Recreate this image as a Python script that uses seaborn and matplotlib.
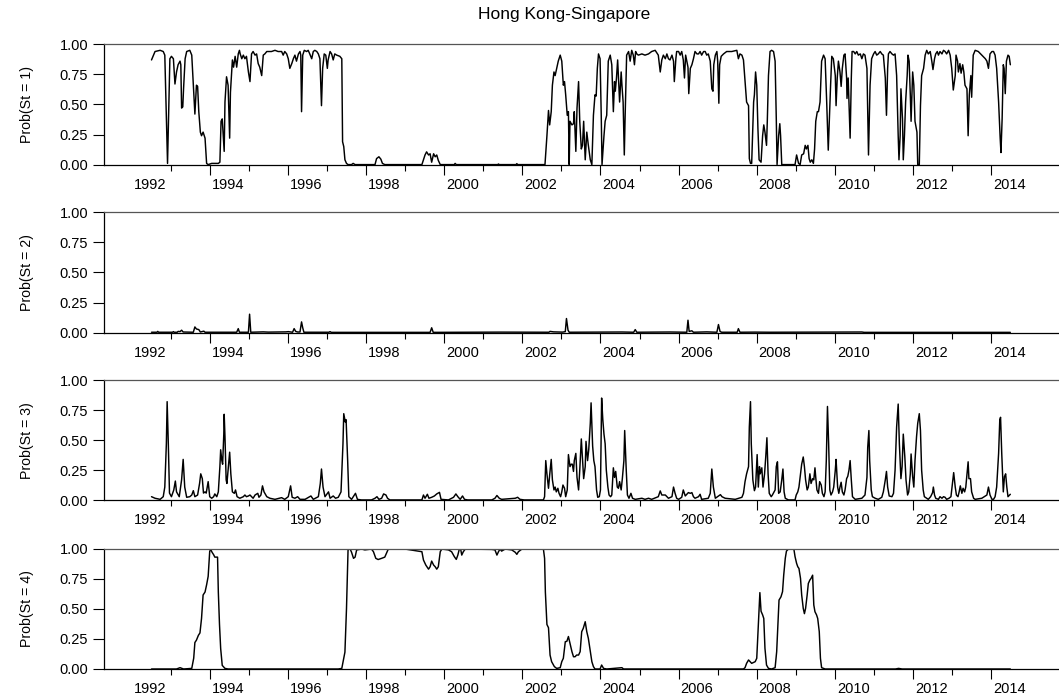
import matplotlib
matplotlib.use("Agg")
import matplotlib.pyplot as plt
import matplotlib.transforms as mtransforms
import seaborn as sns
import pandas as pd

# ---------------- data (decimal year, probability) ----------------
regime1 = [
    (1992.51, 0.87), (1992.60, 0.94), (1992.73, 0.95), (1992.81, 0.94), (1992.85, 0.91), (1992.92, 0.01),
    (1992.98, 0.88), (1993.02, 0.90), (1993.07, 0.88), (1993.11, 0.67), (1993.15, 0.77), (1993.19, 0.83),
    (1993.24, 0.86), (1993.26, 0.83), (1993.28, 0.47), (1993.31, 0.48), (1993.33, 0.63), (1993.37, 0.88),
    (1993.41, 0.94), (1993.49, 0.95), (1993.54, 0.91), (1993.58, 0.66), (1993.62, 0.42), (1993.66, 0.66),
    (1993.69, 0.65), (1993.72, 0.44), (1993.76, 0.27), (1993.79, 0.24), (1993.83, 0.27), (1993.88, 0.22),
    (1993.92, 0.01), (1993.96, 0.0), (1994.05, 0.01), (1994.22, 0.01), (1994.26, 0.02), (1994.29, 0.36),
    (1994.32, 0.38), (1994.37, 0.11), (1994.39, 0.52), (1994.43, 0.73), (1994.47, 0.66), (1994.51, 0.22),
    (1994.53, 0.60), (1994.58, 0.87), (1994.61, 0.81), (1994.65, 0.90), (1994.69, 0.81), (1994.73, 0.92),
    (1994.76, 0.95), (1994.78, 0.92), (1994.82, 0.88), (1994.86, 0.91), (1994.90, 0.88), (1994.94, 0.90),
    (1994.99, 0.77), (1995.03, 0.69), (1995.07, 0.92), (1995.11, 0.94), (1995.16, 0.91), (1995.20, 0.92),
    (1995.24, 0.84), (1995.28, 0.81), (1995.33, 0.74), (1995.37, 0.91), (1995.41, 0.92), (1995.46, 0.94),
    (1995.50, 0.94), (1995.58, 0.94), (1995.67, 0.95), (1995.75, 0.94), (1995.84, 0.94), (1995.88, 0.91),
    (1995.92, 0.94), (1995.97, 0.92), (1996.01, 0.88), (1996.05, 0.80), (1996.10, 0.84), (1996.14, 0.88),
    (1996.18, 0.91), (1996.22, 0.86), (1996.27, 0.92), (1996.31, 0.94), (1996.33, 0.91), (1996.35, 0.44),
    (1996.38, 0.91), (1996.42, 0.95), (1996.48, 0.94), (1996.52, 0.95), (1996.56, 0.92), (1996.61, 0.88),
    (1996.65, 0.94), (1996.69, 0.95), (1996.74, 0.94), (1996.78, 0.92), (1996.82, 0.88), (1996.86, 0.49),
    (1996.89, 0.80), (1996.93, 0.92), (1996.97, 0.91), (1997.01, 0.80), (1997.03, 0.87), (1997.08, 0.94),
    (1997.12, 0.92), (1997.16, 0.87), (1997.20, 0.92), (1997.25, 0.91), (1997.33, 0.90), (1997.38, 0.88),
    (1997.40, 0.19), (1997.43, 0.15), (1997.46, 0.04), (1997.50, 0.01), (1997.54, 0.0), (1997.63, 0.0),
    (1997.67, 0.01), (1997.72, 0.0), (1998.23, 0.0), (1998.27, 0.05), (1998.33, 0.065), (1998.38, 0.045),
    (1998.42, 0.01), (1998.48, 0.0), (1999.43, 0.0), (1999.51, 0.08), (1999.55, 0.106), (1999.60, 0.08),
    (1999.64, 0.09), (1999.68, 0.02), (1999.73, 0.09), (1999.77, 0.065), (1999.81, 0.08), (1999.85, 0.035),
    (1999.90, 0.0), (2000.26, 0.0), (2000.28, 0.01), (2000.31, 0.0), (2001.37, 0.0), (2001.39, 0.005),
    (2001.41, 0.0), (2001.84, 0.0), (2001.86, 0.008), (2001.88, 0.0), (2002.58, 0.0), (2002.63, 0.24),
    (2002.67, 0.45), (2002.70, 0.33), (2002.74, 0.44), (2002.77, 0.66), (2002.81, 0.77), (2002.84, 0.74),
    (2002.88, 0.80), (2002.92, 0.86), (2002.97, 0.91), (2003.01, 0.86), (2003.05, 0.66), (2003.08, 0.69),
    (2003.11, 0.58), (2003.15, 0.41), (2003.18, 0.44), (2003.20, 0.0), (2003.22, 0.36), (2003.27, 0.33),
    (2003.31, 0.34), (2003.33, 0.44), (2003.37, 0.11), (2003.40, 0.47), (2003.44, 0.69), (2003.47, 0.36),
    (2003.51, 0.13), (2003.54, 0.16), (2003.57, 0.36), (2003.61, 0.04), (2003.65, 0.27), (2003.69, 0.16),
    (2003.74, 0.04), (2003.78, 0.0), (2003.82, 0.41), (2003.86, 0.58), (2003.89, 0.57), (2003.92, 0.80),
    (2003.95, 0.92), (2003.99, 0.88), (2004.02, 0.41), (2004.04, 0.0), (2004.09, 0.24), (2004.12, 0.36),
    (2004.16, 0.41), (2004.20, 0.86), (2004.25, 0.91), (2004.29, 0.83), (2004.33, 0.44), (2004.36, 0.69),
    (2004.38, 0.61), (2004.41, 0.72), (2004.44, 0.87), (2004.47, 0.66), (2004.49, 0.52), (2004.53, 0.77),
    (2004.55, 0.66), (2004.58, 0.52), (2004.61, 0.08), (2004.63, 0.38), (2004.67, 0.91), (2004.72, 0.94),
    (2004.76, 0.86), (2004.80, 0.95), (2004.84, 0.91), (2004.87, 0.83), (2004.90, 0.94), (2004.93, 0.92),
    (2004.97, 0.91), (2005.06, 0.92), (2005.14, 0.91), (2005.23, 0.92), (2005.31, 0.94), (2005.40, 0.95),
    (2005.48, 0.91), (2005.53, 0.77), (2005.57, 0.87), (2005.61, 0.91), (2005.66, 0.88), (2005.70, 0.92),
    (2005.74, 0.88), (2005.78, 0.87), (2005.83, 0.91), (2005.87, 0.86), (2005.89, 0.69), (2005.93, 0.88),
    (2005.95, 0.94), (2006.00, 0.94), (2006.04, 0.91), (2006.08, 0.94), (2006.12, 0.87), (2006.15, 0.72),
    (2006.18, 0.91), (2006.21, 0.86), (2006.24, 0.81), (2006.26, 0.59), (2006.30, 0.80), (2006.34, 0.83),
    (2006.38, 0.88), (2006.42, 0.94), (2006.47, 0.92), (2006.51, 0.92), (2006.55, 0.94), (2006.59, 0.91),
    (2006.64, 0.94), (2006.68, 0.94), (2006.72, 0.91), (2006.76, 0.92), (2006.81, 0.86), (2006.85, 0.63),
    (2006.88, 0.61), (2006.90, 0.83), (2006.94, 0.91), (2006.98, 0.94), (2007.00, 0.86), (2007.03, 0.51),
    (2007.05, 0.83), (2007.09, 0.90), (2007.15, 0.92), (2007.23, 0.94), (2007.36, 0.94), (2007.49, 0.95),
    (2007.53, 0.88), (2007.57, 0.92), (2007.62, 0.91), (2007.66, 0.87), (2007.70, 0.69), (2007.74, 0.52),
    (2007.79, 0.49), (2007.81, 0.05), (2007.84, 0.01), (2007.87, 0.01), (2007.92, 0.52), (2007.94, 0.58),
    (2007.97, 0.77), (2008.00, 0.66), (2008.03, 0.30), (2008.06, 0.04), (2008.11, 0.02), (2008.15, 0.24),
    (2008.18, 0.33), (2008.21, 0.27), (2008.25, 0.16), (2008.27, 0.36), (2008.30, 0.74), (2008.34, 0.94),
    (2008.38, 0.95), (2008.43, 0.94), (2008.47, 0.86), (2008.50, 0.38), (2008.52, 0.0), (2008.56, 0.24),
    (2008.59, 0.34), (2008.61, 0.24), (2008.64, 0.0), (2008.98, 0.0), (2009.02, 0.08), (2009.07, 0.01),
    (2009.11, 0.0), (2009.15, 0.08), (2009.20, 0.09), (2009.24, 0.16), (2009.27, 0.13), (2009.31, 0.16),
    (2009.34, 0.05), (2009.37, 0.02), (2009.41, 0.04), (2009.45, 0.01), (2009.48, 0.13), (2009.51, 0.36),
    (2009.55, 0.44), (2009.58, 0.44), (2009.62, 0.52), (2009.66, 0.86), (2009.71, 0.91), (2009.75, 0.88),
    (2009.79, 0.52), (2009.83, 0.12), (2009.85, 0.30), (2009.89, 0.66), (2009.92, 0.90), (2009.96, 0.88),
    (2010.01, 0.74), (2010.03, 0.49), (2010.06, 0.72), (2010.09, 0.86), (2010.13, 0.77), (2010.16, 0.65),
    (2010.19, 0.80), (2010.23, 0.91), (2010.26, 0.92), (2010.30, 0.72), (2010.31, 0.55), (2010.34, 0.72),
    (2010.36, 0.52), (2010.39, 0.22), (2010.42, 0.72), (2010.44, 0.94), (2010.48, 0.94), (2010.52, 0.92),
    (2010.56, 0.94), (2010.60, 0.91), (2010.65, 0.92), (2010.69, 0.88), (2010.73, 0.92), (2010.77, 0.91),
    (2010.82, 0.80), (2010.86, 0.08), (2010.90, 0.66), (2010.94, 0.88), (2010.99, 0.92), (2011.03, 0.94),
    (2011.07, 0.91), (2011.11, 0.92), (2011.16, 0.94), (2011.20, 0.92), (2011.24, 0.91), (2011.29, 0.72),
    (2011.32, 0.41), (2011.35, 0.80), (2011.37, 0.92), (2011.41, 0.94), (2011.46, 0.92), (2011.50, 0.91),
    (2011.54, 0.92), (2011.58, 0.74), (2011.62, 0.24), (2011.64, 0.04), (2011.67, 0.24), (2011.69, 0.63),
    (2011.73, 0.38), (2011.75, 0.04), (2011.78, 0.24), (2011.81, 0.52), (2011.85, 0.74), (2011.87, 0.91),
    (2011.90, 0.86), (2011.93, 0.58), (2011.95, 0.36), (2011.99, 0.77), (2012.02, 0.66), (2012.05, 0.36),
    (2012.10, 0.27), (2012.12, 0.0), (2012.16, 0.0), (2012.19, 0.49), (2012.22, 0.74), (2012.27, 0.80),
    (2012.31, 0.91), (2012.35, 0.95), (2012.39, 0.92), (2012.44, 0.94), (2012.48, 0.86), (2012.51, 0.79),
    (2012.55, 0.88), (2012.58, 0.92), (2012.62, 0.94), (2012.65, 0.91), (2012.69, 0.94), (2012.74, 0.92),
    (2012.78, 0.95), (2012.82, 0.94), (2012.86, 0.92), (2012.91, 0.95), (2012.95, 0.91), (2012.99, 0.80),
    (2013.03, 0.62), (2013.08, 0.74), (2013.10, 0.91), (2013.14, 0.86), (2013.16, 0.77), (2013.20, 0.84),
    (2013.23, 0.76), (2013.27, 0.83), (2013.30, 0.77), (2013.33, 0.66), (2013.38, 0.63), (2013.41, 0.24),
    (2013.44, 0.58), (2013.48, 0.74), (2013.50, 0.56), (2013.54, 0.91), (2013.59, 0.95), (2013.67, 0.94),
    (2013.76, 0.91), (2013.85, 0.88), (2013.89, 0.86), (2013.93, 0.80), (2013.97, 0.92), (2014.02, 0.94),
    (2014.06, 0.94), (2014.10, 0.91), (2014.14, 0.80), (2014.19, 0.52), (2014.23, 0.22), (2014.25, 0.10),
    (2014.28, 0.38), (2014.31, 0.83), (2014.33, 0.80), (2014.36, 0.59), (2014.39, 0.86), (2014.43, 0.91),
    (2014.46, 0.90), (2014.49, 0.83),
]

regime2 = [
    (1992.51, 0.003), (1992.65, 0.003), (1992.67, 0.01), (1992.69, 0.003), (1993.05, 0.003), (1993.07, 0.008),
    (1993.09, 0.003), (1993.17, 0.003), (1993.19, 0.01), (1993.24, 0.008), (1993.28, 0.02), (1993.32, 0.005),
    (1993.58, 0.003), (1993.62, 0.047), (1993.66, 0.03), (1993.72, 0.025), (1993.76, 0.005), (1993.85, 0.012),
    (1993.88, 0.003), (1994.69, 0.003), (1994.73, 0.033), (1994.76, 0.003), (1994.99, 0.003), (1995.02, 0.153),
    (1995.05, 0.003), (1995.37, 0.006), (1995.50, 0.004), (1995.95, 0.006), (1996.01, 0.008), (1996.12, 0.003),
    (1996.16, 0.033), (1996.20, 0.01), (1996.25, 0.005), (1996.31, 0.005), (1996.35, 0.089), (1996.38, 0.04),
    (1996.41, 0.003), (1997.05, 0.003), (1997.08, 0.008), (1997.11, 0.002), (1999.64, 0.002), (1999.68, 0.04),
    (1999.72, 0.002), (2001.43, 0.004), (2002.68, 0.003), (2002.71, 0.01), (2002.80, 0.006), (2003.03, 0.004),
    (2003.10, 0.008), (2003.13, 0.117), (2003.17, 0.02), (2003.20, 0.003), (2004.55, 0.005), (2004.85, 0.003),
    (2004.89, 0.025), (2004.93, 0.003), (2005.31, 0.004), (2005.78, 0.005), (2006.21, 0.003), (2006.24, 0.103),
    (2006.27, 0.01), (2006.34, 0.015), (2006.38, 0.003), (2006.72, 0.006), (2006.98, 0.003), (2007.02, 0.067),
    (2007.06, 0.01), (2007.10, 0.003), (2007.50, 0.003), (2007.53, 0.033), (2007.57, 0.003), (2007.95, 0.004),
    (2008.35, 0.003), (2009.58, 0.004), (2010.69, 0.005), (2010.75, 0.002), (2014.49, 0.002),
]

regime3 = [
    (1992.51, 0.03), (1992.60, 0.017), (1992.73, 0.008), (1992.81, 0.03), (1992.85, 0.11), (1992.89, 0.47),
    (1992.91, 0.82), (1992.94, 0.47), (1992.97, 0.06), (1993.02, 0.03), (1993.08, 0.086), (1993.12, 0.16),
    (1993.15, 0.07), (1993.22, 0.03), (1993.28, 0.17), (1993.32, 0.34), (1993.36, 0.11), (1993.41, 0.025),
    (1993.49, 0.03), (1993.54, 0.044), (1993.58, 0.08), (1993.62, 0.03), (1993.69, 0.044), (1993.74, 0.14),
    (1993.77, 0.22), (1993.81, 0.18), (1993.84, 0.06), (1993.88, 0.07), (1993.91, 0.06), (1993.96, 0.155),
    (1994.00, 0.03), (1994.05, 0.017), (1994.10, 0.03), (1994.13, 0.053), (1994.18, 0.03), (1994.22, 0.07),
    (1994.26, 0.28), (1994.28, 0.42), (1994.31, 0.33), (1994.33, 0.30), (1994.36, 0.55), (1994.37, 0.715),
    (1994.39, 0.53), (1994.42, 0.17), (1994.44, 0.14), (1994.47, 0.25), (1994.51, 0.40), (1994.54, 0.22),
    (1994.58, 0.07), (1994.63, 0.058), (1994.66, 0.086), (1994.70, 0.03), (1994.77, 0.017), (1994.86, 0.03),
    (1994.90, 0.044), (1994.94, 0.03), (1994.99, 0.036), (1995.03, 0.044), (1995.07, 0.03), (1995.11, 0.017),
    (1995.16, 0.044), (1995.23, 0.058), (1995.26, 0.025), (1995.31, 0.044), (1995.35, 0.12), (1995.39, 0.07),
    (1995.46, 0.03), (1995.54, 0.017), (1995.67, 0.008), (1995.84, 0.022), (1995.92, 0.008), (1996.01, 0.03),
    (1996.07, 0.12), (1996.11, 0.025), (1996.18, 0.017), (1996.25, 0.03), (1996.31, 0.008), (1996.44, 0.008),
    (1996.59, 0.036), (1996.65, 0.008), (1996.78, 0.03), (1996.83, 0.14), (1996.86, 0.26), (1996.90, 0.11),
    (1996.95, 0.03), (1997.04, 0.07), (1997.08, 0.017), (1997.16, 0.036), (1997.22, 0.017), (1997.29, 0.025),
    (1997.36, 0.07), (1997.41, 0.47), (1997.43, 0.72), (1997.47, 0.65), (1997.49, 0.67), (1997.53, 0.33),
    (1997.56, 0.03), (1997.63, 0.008), (1997.70, 0.044), (1997.73, 0.058), (1997.78, 0.008), (1997.88, 0.003),
    (1998.14, 0.003), (1998.23, 0.017), (1998.28, 0.03), (1998.33, 0.008), (1998.40, 0.017), (1998.45, 0.053),
    (1998.51, 0.044), (1998.55, 0.017), (1998.61, 0.003), (1999.43, 0.003), (1999.47, 0.044), (1999.51, 0.017),
    (1999.57, 0.05), (1999.61, 0.017), (1999.68, 0.025), (1999.75, 0.036), (1999.81, 0.053), (1999.88, 0.066),
    (1999.92, 0.008), (2000.11, 0.003), (2000.24, 0.025), (2000.30, 0.053), (2000.35, 0.03), (2000.41, 0.008),
    (2000.47, 0.036), (2000.52, 0.008), (2000.60, 0.003), (2001.22, 0.003), (2001.30, 0.017), (2001.35, 0.04),
    (2001.41, 0.017), (2001.47, 0.008), (2001.82, 0.017), (2001.88, 0.025), (2001.94, 0.008), (2002.05, 0.003),
    (2002.54, 0.003), (2002.57, 0.03), (2002.60, 0.33), (2002.63, 0.22), (2002.67, 0.10), (2002.70, 0.21),
    (2002.74, 0.34), (2002.77, 0.17), (2002.81, 0.086), (2002.84, 0.11), (2002.87, 0.07), (2002.91, 0.10),
    (2002.94, 0.058), (2002.98, 0.03), (2003.01, 0.07), (2003.04, 0.127), (2003.08, 0.10), (2003.11, 0.03),
    (2003.15, 0.086), (2003.18, 0.38), (2003.22, 0.28), (2003.25, 0.30), (2003.28, 0.30), (2003.31, 0.24),
    (2003.33, 0.33), (2003.37, 0.39), (2003.40, 0.19), (2003.44, 0.086), (2003.47, 0.25), (2003.51, 0.51),
    (2003.54, 0.34), (2003.57, 0.18), (2003.61, 0.28), (2003.63, 0.49), (2003.67, 0.33), (2003.70, 0.42),
    (2003.74, 0.64), (2003.76, 0.81), (2003.80, 0.45), (2003.83, 0.33), (2003.86, 0.28), (2003.90, 0.086),
    (2003.93, 0.025), (2003.97, 0.03), (2004.00, 0.086), (2004.03, 0.85), (2004.06, 0.67), (2004.09, 0.55),
    (2004.12, 0.47), (2004.15, 0.25), (2004.19, 0.11), (2004.22, 0.044), (2004.26, 0.03), (2004.29, 0.044),
    (2004.33, 0.27), (2004.36, 0.19), (2004.39, 0.24), (2004.43, 0.11), (2004.46, 0.10), (2004.49, 0.155),
    (2004.53, 0.086), (2004.56, 0.18), (2004.60, 0.33), (2004.62, 0.58), (2004.66, 0.25), (2004.69, 0.044),
    (2004.73, 0.017), (2004.78, 0.058), (2004.82, 0.017), (2004.89, 0.008), (2005.06, 0.017), (2005.14, 0.008),
    (2005.23, 0.017), (2005.31, 0.008), (2005.48, 0.03), (2005.53, 0.078), (2005.57, 0.044), (2005.66, 0.044),
    (2005.74, 0.017), (2005.83, 0.03), (2005.87, 0.11), (2005.91, 0.058), (2005.95, 0.017), (2006.00, 0.008),
    (2006.08, 0.025), (2006.12, 0.086), (2006.17, 0.036), (2006.25, 0.064), (2006.30, 0.058), (2006.34, 0.064),
    (2006.38, 0.03), (2006.42, 0.017), (2006.51, 0.03), (2006.55, 0.05), (2006.59, 0.008), (2006.76, 0.017),
    (2006.81, 0.058), (2006.85, 0.26), (2006.89, 0.11), (2006.94, 0.017), (2007.07, 0.047), (2007.11, 0.03),
    (2007.19, 0.017), (2007.45, 0.008), (2007.62, 0.025), (2007.66, 0.058), (2007.70, 0.155), (2007.74, 0.22),
    (2007.79, 0.28), (2007.81, 0.61), (2007.84, 0.82), (2007.86, 0.47), (2007.90, 0.17), (2007.94, 0.08),
    (2007.97, 0.11), (2008.01, 0.38), (2008.04, 0.11), (2008.07, 0.28), (2008.09, 0.22), (2008.13, 0.27),
    (2008.16, 0.11), (2008.20, 0.22), (2008.23, 0.36), (2008.26, 0.52), (2008.29, 0.22), (2008.32, 0.058),
    (2008.37, 0.03), (2008.40, 0.044), (2008.47, 0.086), (2008.50, 0.28), (2008.53, 0.32), (2008.56, 0.058),
    (2008.60, 0.07), (2008.64, 0.17), (2008.67, 0.26), (2008.70, 0.07), (2008.73, 0.017), (2008.81, 0.003),
    (2008.98, 0.003), (2009.01, 0.044), (2009.05, 0.07), (2009.08, 0.11), (2009.12, 0.22), (2009.15, 0.30),
    (2009.19, 0.36), (2009.22, 0.28), (2009.25, 0.17), (2009.29, 0.086), (2009.32, 0.11), (2009.36, 0.22),
    (2009.39, 0.14), (2009.43, 0.18), (2009.46, 0.17), (2009.49, 0.27), (2009.51, 0.19), (2009.54, 0.086),
    (2009.58, 0.058), (2009.61, 0.155), (2009.65, 0.127), (2009.68, 0.058), (2009.72, 0.03), (2009.75, 0.07),
    (2009.78, 0.33), (2009.81, 0.78), (2009.84, 0.47), (2009.87, 0.086), (2009.90, 0.044), (2009.94, 0.07),
    (2009.97, 0.11), (2010.01, 0.25), (2010.03, 0.34), (2010.07, 0.11), (2010.10, 0.058), (2010.13, 0.11),
    (2010.16, 0.15), (2010.19, 0.07), (2010.23, 0.044), (2010.26, 0.086), (2010.30, 0.18), (2010.33, 0.20),
    (2010.36, 0.25), (2010.39, 0.33), (2010.42, 0.17), (2010.45, 0.03), (2010.52, 0.008), (2010.69, 0.017),
    (2010.77, 0.044), (2010.82, 0.19), (2010.84, 0.44), (2010.87, 0.58), (2010.89, 0.33), (2010.93, 0.086),
    (2010.96, 0.03), (2011.03, 0.017), (2011.11, 0.008), (2011.20, 0.025), (2011.24, 0.07), (2011.29, 0.17),
    (2011.32, 0.24), (2011.35, 0.11), (2011.39, 0.036), (2011.46, 0.03), (2011.50, 0.058), (2011.54, 0.25),
    (2011.58, 0.61), (2011.62, 0.80), (2011.65, 0.47), (2011.69, 0.18), (2011.72, 0.28), (2011.75, 0.55),
    (2011.79, 0.36), (2011.82, 0.17), (2011.86, 0.044), (2011.89, 0.07), (2011.93, 0.22), (2011.95, 0.385),
    (2011.99, 0.197), (2012.02, 0.11), (2012.05, 0.33), (2012.09, 0.53), (2012.12, 0.64), (2012.16, 0.72),
    (2012.19, 0.58), (2012.22, 0.25), (2012.26, 0.086), (2012.29, 0.03), (2012.35, 0.017), (2012.39, 0.008),
    (2012.45, 0.03), (2012.50, 0.064), (2012.52, 0.11), (2012.55, 0.044), (2012.58, 0.017), (2012.65, 0.008),
    (2012.69, 0.03), (2012.74, 0.017), (2012.78, 0.03), (2012.82, 0.025), (2012.86, 0.008), (2012.92, 0.017),
    (2012.97, 0.03), (2013.01, 0.14), (2013.04, 0.23), (2013.08, 0.11), (2013.11, 0.044), (2013.15, 0.03),
    (2013.18, 0.07), (2013.21, 0.12), (2013.25, 0.058), (2013.28, 0.10), (2013.32, 0.07), (2013.35, 0.11),
    (2013.38, 0.22), (2013.41, 0.32), (2013.43, 0.18), (2013.47, 0.18), (2013.50, 0.07), (2013.55, 0.017),
    (2013.59, 0.008), (2013.76, 0.017), (2013.85, 0.036), (2013.89, 0.044), (2013.93, 0.11), (2013.97, 0.044),
    (2014.02, 0.008), (2014.06, 0.008), (2014.10, 0.03), (2014.14, 0.11), (2014.19, 0.39), (2014.22, 0.67),
    (2014.24, 0.69), (2014.27, 0.39), (2014.31, 0.07), (2014.34, 0.197), (2014.37, 0.22), (2014.40, 0.11),
    (2014.43, 0.03), (2014.47, 0.044), (2014.49, 0.05),
]

regime4 = [
    (1992.51, 0.0), (1993.15, 0.0), (1993.24, 0.011), (1993.33, 0.0), (1993.54, 0.005), (1993.59, 0.09),
    (1993.62, 0.22), (1993.66, 0.24), (1993.71, 0.28), (1993.75, 0.30), (1993.79, 0.42), (1993.83, 0.615),
    (1993.88, 0.64), (1993.92, 0.70), (1993.96, 0.77), (1994.00, 0.98), (1994.03, 0.99), (1994.06, 0.97),
    (1994.10, 0.95), (1994.13, 0.93), (1994.20, 0.93), (1994.22, 0.64), (1994.25, 0.37), (1994.28, 0.17),
    (1994.32, 0.03), (1994.39, 0.005), (1994.47, 0.0), (1997.29, 0.0), (1997.38, 0.005), (1997.46, 0.14),
    (1997.50, 0.50), (1997.54, 0.99), (1997.59, 1.0), (1997.63, 0.97), (1997.68, 0.92), (1997.72, 0.93),
    (1997.76, 0.99), (1997.89, 0.997), (1997.97, 0.99), (1998.14, 0.997), (1998.19, 0.975), (1998.25, 0.92),
    (1998.31, 0.91), (1998.40, 0.92), (1998.48, 0.93), (1998.57, 0.997), (1998.66, 1.0), (1999.00, 0.997),
    (1999.43, 0.975), (1999.47, 0.906), (1999.53, 0.864), (1999.60, 0.83), (1999.64, 0.85), (1999.68, 0.897),
    (1999.73, 0.864), (1999.77, 0.85), (1999.81, 0.83), (1999.85, 0.85), (1999.90, 0.975), (1999.94, 0.997),
    (2000.11, 0.99), (2000.19, 0.975), (2000.26, 0.934), (2000.31, 0.911), (2000.35, 0.947), (2000.39, 1.0),
    (2000.42, 1.0), (2000.45, 0.947), (2000.49, 0.975), (2000.54, 0.997), (2001.22, 0.994), (2001.30, 0.99),
    (2001.35, 0.947), (2001.39, 0.975), (2001.43, 0.997), (2001.47, 0.98), (2001.56, 0.997), (2001.73, 0.99),
    (2001.82, 0.97), (2001.86, 0.953), (2001.90, 0.975), (2001.99, 0.997), (2002.54, 0.997), (2002.57, 0.92),
    (2002.59, 0.64), (2002.63, 0.37), (2002.67, 0.343), (2002.71, 0.116), (2002.75, 0.061), (2002.82, 0.02),
    (2002.88, 0.005), (2002.97, 0.011), (2003.01, 0.061), (2003.05, 0.089), (2003.10, 0.227), (2003.14, 0.23),
    (2003.18, 0.27), (2003.22, 0.213), (2003.27, 0.144), (2003.31, 0.102), (2003.35, 0.102), (2003.39, 0.116),
    (2003.44, 0.116), (2003.48, 0.144), (2003.52, 0.31), (2003.56, 0.338), (2003.61, 0.393), (2003.65, 0.31),
    (2003.69, 0.255), (2003.74, 0.144), (2003.78, 0.061), (2003.82, 0.02), (2003.86, 0.0), (2003.99, 0.0),
    (2004.03, 0.033), (2004.08, 0.005), (2004.16, 0.0), (2004.55, 0.011), (2004.59, 0.0), (2007.66, 0.0),
    (2007.70, 0.011), (2007.74, 0.047), (2007.79, 0.075), (2007.83, 0.061), (2007.87, 0.047), (2007.92, 0.055),
    (2007.96, 0.061), (2008.00, 0.089), (2008.04, 0.366), (2008.08, 0.635), (2008.11, 0.48), (2008.15, 0.45),
    (2008.18, 0.42), (2008.21, 0.172), (2008.25, 0.033), (2008.30, 0.005), (2008.38, 0.0), (2008.47, 0.011),
    (2008.51, 0.144), (2008.54, 0.366), (2008.57, 0.573), (2008.62, 0.6), (2008.66, 0.643), (2008.69, 0.78),
    (2008.73, 0.92), (2008.76, 0.98), (2008.81, 0.997), (2008.90, 0.997), (2008.95, 0.997), (2008.98, 0.934),
    (2009.02, 0.878), (2009.05, 0.85), (2009.08, 0.836), (2009.12, 0.753), (2009.15, 0.615), (2009.19, 0.504),
    (2009.22, 0.46), (2009.25, 0.504), (2009.29, 0.615), (2009.32, 0.711), (2009.36, 0.74), (2009.39, 0.753),
    (2009.43, 0.78), (2009.46, 0.532), (2009.49, 0.476), (2009.53, 0.45), (2009.56, 0.42), (2009.60, 0.31),
    (2009.63, 0.089), (2009.66, 0.011), (2009.75, 0.0), (2011.55, 0.0), (2011.63, 0.005), (2011.72, 0.0),
    (2014.49, 0.0),
]

series = [regime1, regime2, regime3, regime4]
ylabels = ["Prob(St = 1)", "Prob(St = 2)", "Prob(St = 3)", "Prob(St = 4)"]
title = "Hong Kong-Singapore"
label_years = [1992, 1994, 1996, 1998, 2000, 2002, 2004, 2006, 2008, 2010, 2012, 2014]
major_ticks = [1994, 1996, 1998, 2000, 2002, 2004, 2006, 2008, 2010, 2012, 2014]
minor_ticks = [1993, 1995, 1997, 1999, 2001, 2003, 2005, 2007, 2009, 2011, 2013]
yticks = [0.0, 0.25, 0.5, 0.75, 1.0]

# ---------------- style ----------------
sns.set_theme(style="white")
plt.rcParams["font.family"] = ["Liberation Sans", "DejaVu Sans"]

W, H = 1059, 700
fig = plt.figure(figsize=(W / 100, H / 100), dpi=100)

left_px, right_px = 104, 1058
panel_tops = [44.3, 212.3, 380.0, 548.7]
panel_h = 120.3
x_lo, x_hi = 1991.294, 2015.71

tick_fs = 10.5
for i, (pts, ylab) in enumerate(zip(series, ylabels)):
    top = panel_tops[i]
    ax = fig.add_axes([left_px / W, 1 - (top + panel_h) / H,
                       (right_px - left_px) / W, panel_h / H])
    df = pd.DataFrame(pts, columns=["year", "prob"])
    sns.lineplot(data=df, x="year", y="prob", ax=ax, color="black",
                 linewidth=1.05, estimator=None, sort=False)
    ax.set_xlim(x_lo, x_hi)
    ax.set_ylim(0, 1)
    ax.set_xlabel("")
    ax.set_ylabel("")
    for s in ["left", "bottom", "top"]:
        ax.spines[s].set_visible(True)
        ax.spines[s].set_linewidth(0.9)
    ax.spines["left"].set_color("black")
    ax.spines["bottom"].set_color("black")
    ax.spines["top"].set_color("#555555")
    ax.spines["right"].set_visible(False)

    ax.set_yticks(yticks)
    ax.set_yticklabels([f"{v:.2f}" for v in yticks], fontsize=tick_fs)
    ax.tick_params(axis="y", direction="out", length=8, width=0.8, pad=3.5,
                   colors="black", left=True)
    ax.set_xticks(major_ticks)
    ax.set_xticklabels([])
    ax.set_xticks(minor_ticks, minor=True)
    ax.tick_params(axis="x", which="major", direction="out", length=7.5,
                   width=0.8, bottom=True, color="black")
    ax.tick_params(axis="x", which="minor", direction="out", length=4,
                   width=0.8, bottom=True, color="black")
    trans = mtransforms.blended_transform_factory(ax.transData, ax.transAxes)
    for yr in label_years:
        ax.annotate(str(yr), xy=(yr + 0.47, 0), xycoords=trans,
                    xytext=(0, -9.5), textcoords="offset points",
                    ha="center", va="top", fontsize=tick_fs, color="black")

    fig.text(27 / W, 1 - (top + panel_h / 2) / H, ylab, rotation=90,
             ha="center", va="center", fontsize=10.2, color="black",
             family=["Liberation Sans Narrow", "Liberation Sans", "DejaVu Sans"])

fig.text(0.533, 1 - 14 / H, title, ha="center", va="center", fontsize=12.5,
         color="black")

fig.savefig("out.png", dpi=100)
